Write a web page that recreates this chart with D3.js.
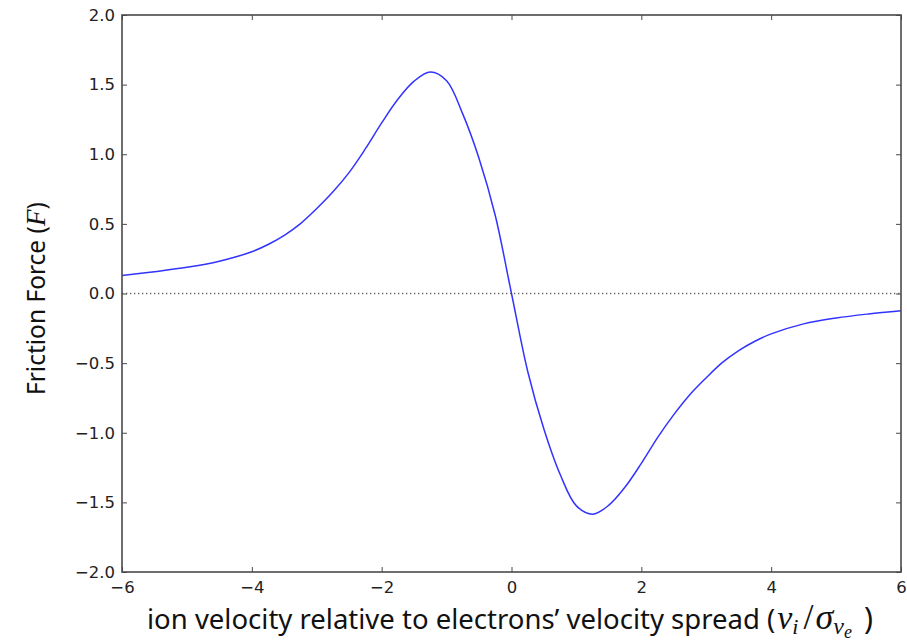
<!DOCTYPE html>
<html>
<head>
<meta charset="utf-8">
<script src="https://cdn.jsdelivr.net/npm/d3@7"></script>
<style>
  body { margin: 0; background: #fff; }
  svg { display: block; }
</style>
</head>
<body>
<div id="canvas"></div>
<script>
// values
const velocity = [-6.0, -5.5, -5.0, -4.5, -4.0, -3.75, -3.5, -3.25, -3.0, -2.75, -2.5, -2.25, -2.0, -1.75, -1.5, -1.25, -1.0, -0.75, -0.5, -0.25,
                  0.0, 0.25, 0.5, 0.75, 1.0, 1.25, 1.5, 1.75, 2.0, 2.25, 2.5, 2.75, 3.0, 3.25, 3.5, 3.75, 4.0, 4.5, 5.0, 5.5, 6.0];
const friction = [0.130, 0.157, 0.188, 0.232, 0.300, 0.352, 0.418, 0.502, 0.610, 0.730, 0.870, 1.040, 1.225, 1.395, 1.525, 1.590, 1.528, 1.288, 0.970, 0.560,
                  0.0, -0.560, -0.975, -1.300, -1.525, -1.585, -1.520, -1.390, -1.220, -1.035, -0.870, -0.725, -0.605, -0.495, -0.410, -0.343, -0.290, -0.218, -0.176, -0.147, -0.124];
const xTicks = [-6, -4, -2, 0, 2, 4, 6];
const yTicks = [-2.0, -1.5, -1.0, -0.5, 0.0, 0.5, 1.0, 1.5, 2.0];

const margin = { top: 15, right: 6, bottom: 70, left: 122 },
    width = 907 - margin.left - margin.right,
    height = 642 - margin.top - margin.bottom;

const svg = d3.select("#canvas")
    .append("svg")
    .attr("width", width + margin.left + margin.right)
    .attr("height", height + margin.top + margin.bottom)
    .append("g")
    .attr("transform", `translate(${margin.left},${margin.top})`);

const x = d3.scaleLinear().domain([-6, 6]).range([0, width]);
const y = d3.scaleLinear().domain([-2, 2]).range([height, 0]);

const frameColor = "#4a4a4a";
const tickFont = "'DejaVu Sans', sans-serif";

// zero line
svg.append("line")
    .attr("x1", 0).attr("x2", width)
    .attr("y1", y(0)).attr("y2", y(0))
    .attr("stroke", "#666")
    .attr("stroke-width", 1.3)
    .attr("stroke-dasharray", "1.3,2.7");

// curve
const data = velocity.map((v, i) => ({ v: v, f: friction[i] }));
svg.append("path")
    .datum(data)
    .attr("fill", "none")
    .attr("stroke", "#3333ff")
    .attr("stroke-width", 1.5)
    .attr("d", d3.line()
        .x(d => x(d.v))
        .y(d => y(d.f))
        .curve(d3.curveCatmullRom.alpha(0.5)));

// axes, ticks pointing inward
const styleAxis = g => {
    g.select(".domain").remove();
    g.selectAll(".tick line").attr("stroke", frameColor).attr("stroke-width", 1);
    g.selectAll(".tick text").attr("fill", "#222").style("font-family", tickFont).style("font-size", "16.5px");
};

svg.append("g")
    .attr("transform", `translate(0,${height})`)
    .call(d3.axisBottom(x).tickValues(xTicks).tickFormat(d3.format("d")).tickSizeInner(-5).tickPadding(9))
    .call(styleAxis);
svg.append("g")
    .call(d3.axisTop(x).tickValues(xTicks).tickSizeInner(-5).tickFormat(""))
    .call(styleAxis);
svg.append("g")
    .call(d3.axisLeft(y).tickValues(yTicks).tickFormat(d3.format(".1f")).tickSizeInner(-5).tickPadding(7))
    .call(styleAxis);
svg.append("g")
    .attr("transform", `translate(${width},0)`)
    .call(d3.axisRight(y).tickValues(yTicks).tickSizeInner(-5).tickFormat(""))
    .call(styleAxis);

// frame
svg.append("rect")
    .attr("width", width).attr("height", height)
    .attr("fill", "none")
    .attr("stroke", frameColor)
    .attr("stroke-width", 1.6);

// axis labels
const labelFont = "'Noto Sans', sans-serif";
const mathFont = "'Liberation Serif', 'DejaVu Serif', serif";

const xl = svg.append("text")
    .attr("x", 25).attr("y", 614)
    .attr("fill", "#111")
    .style("font-family", labelFont)
    .style("font-size", "27.5px");
xl.append("tspan").text("ion velocity relative to electrons\u2019 velocity spread (");
xl.append("tspan").style("font-family", mathFont).style("font-style", "italic").style("font-size", "34px").attr("dx", 2).text("v");
xl.append("tspan").style("font-family", mathFont).style("font-style", "italic").style("font-size", "22px").attr("dy", 5).text("i");
xl.append("tspan").style("font-family", mathFont).style("font-size", "36px").attr("dx", 5).attr("dy", -5).text("/");
xl.append("tspan").style("font-family", mathFont).style("font-style", "italic").style("font-size", "36px").attr("dx", 2).text("\u03C3");
xl.append("tspan").style("font-family", mathFont).style("font-style", "italic").style("font-size", "24px").attr("dy", 5).text("v");
xl.append("tspan").style("font-family", mathFont).style("font-style", "italic").style("font-size", "18px").attr("dy", 4).text("e");
xl.append("tspan").style("font-size", "30px").attr("dx", 12).attr("dy", -9).text(")");

const yl = svg.append("text")
    .attr("transform", `translate(${45 - margin.left},${395 - margin.top}) rotate(-90)`)
    .attr("fill", "#111")
    .style("font-family", labelFont)
    .style("font-size", "24.5px");
yl.append("tspan").text("Friction Force (");
yl.append("tspan").style("font-family", mathFont).style("font-style", "italic").style("font-size", "27px").text("F");
yl.append("tspan").text(")");
</script>
</body>
</html>
